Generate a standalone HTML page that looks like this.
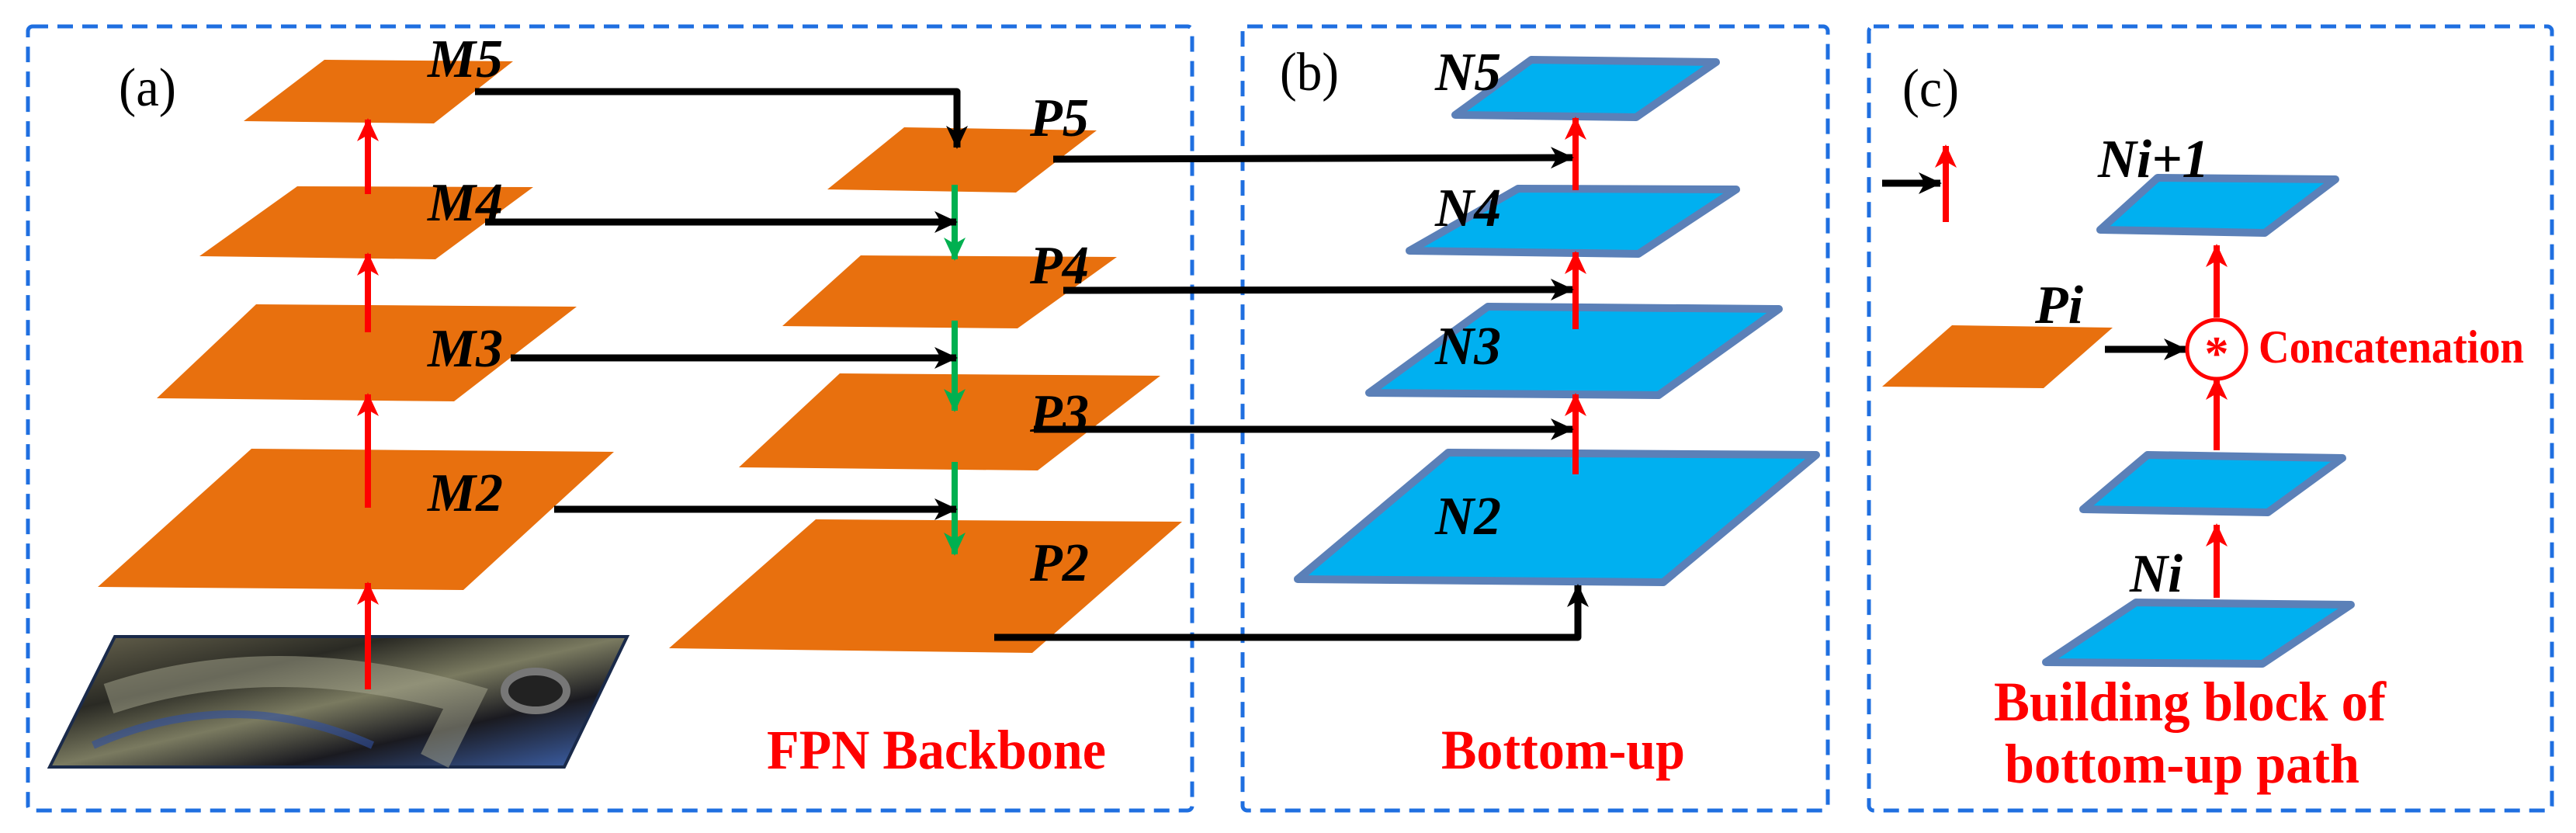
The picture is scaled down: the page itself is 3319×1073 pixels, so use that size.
<!DOCTYPE html>
<html><head><meta charset="utf-8"><style>html,body{margin:0;padding:0;background:#fff}svg{display:block}</style></head>
<body>
<svg width="3319" height="1073" viewBox="0 0 3319 1073" xmlns="http://www.w3.org/2000/svg">
<defs>
<marker id="ar" markerUnits="userSpaceOnUse" markerWidth="40" markerHeight="40" refX="28" refY="14" orient="auto"><path d="M0,0 L30,14 L0,28 L8,14 Z" fill="#f00"/></marker>
<marker id="ab" markerUnits="userSpaceOnUse" markerWidth="40" markerHeight="40" refX="28" refY="14" orient="auto"><path d="M0,0 L30,14 L0,28 L8,14 Z" fill="#000"/></marker>
<marker id="ag" markerUnits="userSpaceOnUse" markerWidth="40" markerHeight="40" refX="28" refY="14" orient="auto"><path d="M0,0 L30,14 L0,28 L8,14 Z" fill="#00b050"/></marker>
<linearGradient id="img" x1="0" y1="0" x2="1" y2="1">
<stop offset="0" stop-color="#6a6650"/><stop offset="0.3" stop-color="#2a2a24"/><stop offset="0.5" stop-color="#7a7a60"/><stop offset="0.7" stop-color="#1a1a20"/><stop offset="1" stop-color="#4068b8"/></linearGradient>
</defs>
<g fill="none" stroke="#1f6fe0" stroke-width="5" stroke-dasharray="20,12">
<rect x="36" y="34" width="1500" height="1010" rx="6"/>
<rect x="1601" y="34" width="754" height="1010" rx="6"/>
<rect x="2408" y="34" width="880" height="1010" rx="6"/>
</g>
<g fill="#e8700e">
<polygon points="418,77 661,79 559,159 314,156"/>
<polygon points="383,240 687,241 561,334 257,330"/>
<polygon points="330,392 743,395 585,517 202,513"/>
<polygon points="324,578 791,582 597,760 126,756"/>
<polygon points="1165,164 1413,168 1309,248 1066,244"/>
<polygon points="1109,329 1439,331 1311,423 1008,420"/>
<polygon points="1082,481 1495,484 1337,606 952,602"/>
<polygon points="1051,669 1523,672 1330,841 862,835"/>
<polygon points="2515,419 2722,422 2633,500 2425,498"/>
</g>
<polygon points="148,820 808,820 727,988 64,988" fill="url(#img)" stroke="#1a2a4a" stroke-width="4"/>
<path d="M140,900 Q350,830 600,900 L560,980" stroke="#a8a890" stroke-width="40" fill="none" opacity="0.5"/>
<path d="M120,960 Q300,880 480,960" stroke="#3050a0" stroke-width="10" fill="none" opacity="0.6"/>
<ellipse cx="690" cy="890" rx="40" ry="25" fill="#222" stroke="#777" stroke-width="10"/>
<g fill="#00b0f0" stroke="#5b80b8" stroke-width="10" stroke-linejoin="round">
<polygon points="1973,77 2211,80 2108,151 1875,148"/>
<polygon points="1956,243 2237,244 2111,327 1816,323"/>
<polygon points="1917,395 2292,398 2137,509 1764,506"/>
<polygon points="1866,583 2340,586 2143,750 1672,746"/>
<polygon points="2780,229 3009,231 2918,300 2706,296"/>
<polygon points="2767,586 3018,590 2922,660 2684,656"/>
<polygon points="2752,776 3029,779 2915,855 2636,853"/>
</g>
<g stroke="#f00" stroke-width="8" fill="none" marker-end="url(#ar)">
<line x1="474" y1="250" x2="474" y2="154"/>
<line x1="474" y1="428" x2="474" y2="327"/>
<line x1="474" y1="654" x2="474" y2="508"/>
<line x1="474" y1="888" x2="474" y2="751"/>
<line x1="2030" y1="245" x2="2030" y2="152"/>
<line x1="2030" y1="424" x2="2030" y2="325"/>
<line x1="2030" y1="611" x2="2030" y2="508"/>
<line x1="2507" y1="286" x2="2507" y2="188"/>
<line x1="2856" y1="409" x2="2856" y2="316"/>
<line x1="2856" y1="580" x2="2856" y2="487"/>
<line x1="2856" y1="770" x2="2856" y2="676"/>
</g>
<g stroke="#00b050" stroke-width="8" fill="none" marker-end="url(#ag)">
<line x1="1230" y1="238" x2="1230" y2="334"/>
<line x1="1230" y1="413" x2="1230" y2="529"/>
<line x1="1230" y1="595" x2="1230" y2="714"/>
</g>
<g stroke="#000" stroke-width="9" fill="none" marker-end="url(#ab)" stroke-linejoin="round">
<polyline points="612,118 1233,118 1233,190"/>
<line x1="625" y1="286" x2="1232" y2="286"/>
<line x1="658" y1="461" x2="1232" y2="461"/>
<line x1="714" y1="656" x2="1232" y2="656"/>
<line x1="1357" y1="205" x2="2026" y2="203"/>
<line x1="1370" y1="374" x2="2026" y2="373"/>
<line x1="1332" y1="553" x2="2026" y2="553"/>
<polyline points="1281,821 2033,821 2033,754"/>
<line x1="2425" y1="236" x2="2500" y2="236"/>
<line x1="2712" y1="450" x2="2816" y2="450"/>
</g>
<circle cx="2856" cy="450" r="38" fill="#fff" stroke="#f00" stroke-width="5"/>
<text x="2856" y="476" text-anchor="middle" font-family="Liberation Serif, serif" font-weight="bold" font-size="62" fill="#f00">*</text>
<g font-family="Liberation Serif, serif" font-weight="bold" font-style="italic" font-size="70" fill="#000">
<text x="551" y="99" textLength="97" lengthAdjust="spacingAndGlyphs">M5</text>
<text x="551" y="284" textLength="97" lengthAdjust="spacingAndGlyphs">M4</text>
<text x="551" y="472" textLength="97" lengthAdjust="spacingAndGlyphs">M3</text>
<text x="551" y="658" textLength="97" lengthAdjust="spacingAndGlyphs">M2</text>
<text x="1327" y="175" textLength="76" lengthAdjust="spacingAndGlyphs">P5</text>
<text x="1327" y="365" textLength="76" lengthAdjust="spacingAndGlyphs">P4</text>
<text x="1327" y="556" textLength="76" lengthAdjust="spacingAndGlyphs">P3</text>
<text x="1327" y="748" textLength="76" lengthAdjust="spacingAndGlyphs">P2</text>
<text x="1849" y="116" textLength="85" lengthAdjust="spacingAndGlyphs">N5</text>
<text x="1849" y="291" textLength="85" lengthAdjust="spacingAndGlyphs">N4</text>
<text x="1849" y="469" textLength="85" lengthAdjust="spacingAndGlyphs">N3</text>
<text x="1849" y="688" textLength="85" lengthAdjust="spacingAndGlyphs">N2</text>
<text x="2703" y="228" textLength="143" lengthAdjust="spacingAndGlyphs">Ni+1</text>
<text x="2622" y="416" textLength="62" lengthAdjust="spacingAndGlyphs">Pi</text>
<text x="2744" y="762" textLength="68" lengthAdjust="spacingAndGlyphs">Ni</text>
</g>
<g font-family="Liberation Serif, serif" font-size="70" fill="#000">
<text x="153" y="136" textLength="74" lengthAdjust="spacingAndGlyphs">(a)</text>
<text x="1649" y="116" textLength="76" lengthAdjust="spacingAndGlyphs">(b)</text>
<text x="2451" y="137" textLength="73" lengthAdjust="spacingAndGlyphs">(c)</text>
</g>
<g font-family="Liberation Serif, serif" font-weight="bold" font-size="72" fill="#f00">
<text x="988" y="990" textLength="437" lengthAdjust="spacingAndGlyphs">FPN Backbone</text>
<text x="1857" y="990" textLength="314" lengthAdjust="spacingAndGlyphs">Bottom-up</text>
<text x="2569" y="928" textLength="505" lengthAdjust="spacingAndGlyphs">Building block of</text>
<text x="2583" y="1008" textLength="457" lengthAdjust="spacingAndGlyphs">bottom-up path</text>
<text x="2910" y="467" font-size="60" textLength="342" lengthAdjust="spacingAndGlyphs">Concatenation</text>
</g>
</svg>
</body></html>
